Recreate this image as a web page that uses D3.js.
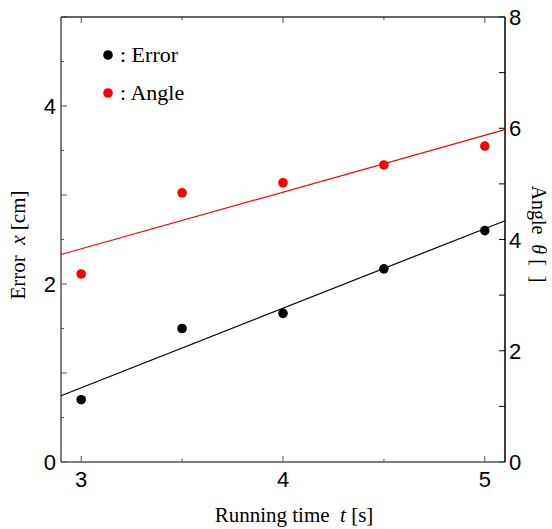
<!DOCTYPE html>
<html>
<head>
<meta charset="utf-8">
<script src="https://cdn.jsdelivr.net/npm/d3@7"></script>
<style>
  body { margin: 0; background: #fff; }
  svg { display: block; }
  text { white-space: pre; }
</style>
</head>
<body>
<div id="chart"></div>
<script>
// running time t [s]
const times = [3, 3.5, 4, 4.5, 5];
// error x [cm] (left axis)
const errorValues = [0.70, 1.50, 1.67, 2.17, 2.60];
// angle θ (right axis)
const angleValues = [3.38, 4.84, 5.02, 5.34, 5.68];

const xTicks = [3, 4, 5];
const leftTicks = [0, 2, 4];
const rightTicks = [0, 2, 4, 6, 8];

const width = 552, height = 529;
const margin = { top: 17, right: 47, bottom: 67, left: 61 };
const innerW = width - margin.left - margin.right;
const innerH = height - margin.top - margin.bottom;

const svg = d3.select('#chart').append('svg')
  .attr('width', width)
  .attr('height', height);

const g = svg.append('g')
  .attr('transform', `translate(${margin.left},${margin.top})`);

const x = d3.scaleLinear().domain([2.9, 5.1]).range([0, innerW]);
const yL = d3.scaleLinear().domain([0, 5]).range([innerH, 0]);
const yR = d3.scaleLinear().domain([0, 8]).range([innerH, 0]);

// least squares line
function fit(xs, ys) {
  const mx = d3.mean(xs), my = d3.mean(ys);
  const num = d3.sum(xs, (v, i) => (v - mx) * (ys[i] - my));
  const den = d3.sum(xs, v => (v - mx) * (v - mx));
  const b = num / den;
  return t => my + b * (t - mx);
}

const grey = '#555';

// ticks (inward)
function ticks(axisFn, scale, vals, len) {
  vals.forEach(v => axisFn(scale(v), len));
}
const leftTick = (py, len) => g.append('line').attr('x1', 0).attr('x2', len).attr('y1', py).attr('y2', py).attr('stroke', grey).attr('stroke-width', 1);
const rightTick = (py, len) => g.append('line').attr('x1', innerW).attr('x2', innerW - len).attr('y1', py).attr('y2', py).attr('stroke', '#000').attr('stroke-width', 1);
const bottomTick = (px, len) => g.append('line').attr('x1', px).attr('x2', px).attr('y1', innerH).attr('y2', innerH - len).attr('stroke', grey).attr('stroke-width', 1);
const topTick = (px, len) => g.append('line').attr('x1', px).attr('x2', px).attr('y1', 0).attr('y2', len).attr('stroke', grey).attr('stroke-width', 1);

ticks(leftTick, yL, d3.range(0, 5.01, 1), 6);
ticks(leftTick, yL, d3.range(0.5, 5, 1), 3);
ticks(rightTick, yR, d3.range(0, 8.01, 1), 6);
ticks(bottomTick, x, [3, 4, 5], 6);
ticks(bottomTick, x, [3.5, 4.5], 3);
ticks(topTick, x, [3, 4, 5], 6);
ticks(topTick, x, [3.5, 4.5], 3);

// frame
g.append('line').attr('x1', 0).attr('x2', 0).attr('y1', 0).attr('y2', innerH).attr('stroke', grey).attr('stroke-width', 1.5);
g.append('line').attr('x1', 0).attr('x2', innerW).attr('y1', innerH).attr('y2', innerH).attr('stroke', grey).attr('stroke-width', 1.5);
g.append('line').attr('x1', 0).attr('x2', innerW).attr('y1', 0).attr('y2', 0).attr('stroke', '#333').attr('stroke-width', 1.5);
g.append('line').attr('x1', innerW).attr('x2', innerW).attr('y1', 0).attr('y2', innerH).attr('stroke', '#000').attr('stroke-width', 1.5);

// tick labels
const sans = 'Liberation Sans, Arial, sans-serif';
g.selectAll('.xl').data(xTicks).enter().append('text')
  .attr('x', d => x(d)).attr('y', innerH + 25)
  .attr('text-anchor', 'middle').attr('font-family', sans).attr('font-size', 22)
  .text(d => d);
g.selectAll('.yl').data(leftTicks).enter().append('text')
  .attr('x', -5).attr('y', d => yL(d) + 8)
  .attr('text-anchor', 'end').attr('font-family', sans).attr('font-size', 22)
  .text(d => d);
g.selectAll('.yr').data(rightTicks).enter().append('text')
  .attr('x', innerW + 4).attr('y', d => yR(d) + 8)
  .attr('text-anchor', 'start').attr('font-family', sans).attr('font-size', 22)
  .text(d => d);

// fit lines
const fE = fit(times, errorValues);
const fA = fit(times, angleValues);
const dom = x.domain();
g.append('line')
  .attr('x1', x(dom[0])).attr('y1', yL(fE(dom[0])))
  .attr('x2', x(dom[1])).attr('y2', yL(fE(dom[1])))
  .attr('stroke', '#000').attr('stroke-width', 1.2);
g.append('line')
  .attr('x1', x(dom[0])).attr('y1', yR(fA(dom[0])))
  .attr('x2', x(dom[1])).attr('y2', yR(fA(dom[1])))
  .attr('stroke', '#f00').attr('stroke-width', 1.2);

// points
g.selectAll('.pe').data(times).enter().append('circle')
  .attr('cx', d => x(d)).attr('cy', (d, i) => yL(errorValues[i]))
  .attr('r', 4.8).attr('fill', '#000');
g.selectAll('.pa').data(times).enter().append('circle')
  .attr('cx', d => x(d)).attr('cy', (d, i) => yR(angleValues[i]))
  .attr('r', 4.8).attr('fill', '#f00');

// legend
const serif = 'Liberation Serif, Times New Roman, serif';
const legend = [{ label: ': Error', color: '#000' }, { label: ': Angle', color: '#f00' }];
const lg = g.selectAll('.lg').data(legend).enter().append('g')
  .attr('transform', (d, i) => `translate(47,${38 + i * 38})`);
lg.append('circle').attr('r', 4.8).attr('fill', d => d.color);
lg.append('text').attr('x', 12).attr('y', 7)
  .attr('font-family', serif).attr('font-size', 22)
  .text(d => d.label);

// axis titles
const xt = svg.append('text')
  .attr('x', 294).attr('y', 522)
  .attr('text-anchor', 'middle').attr('font-family', serif).attr('font-size', 21);
xt.append('tspan').text('Running time  ');
xt.append('tspan').attr('font-style', 'italic').text('t');
xt.append('tspan').text(' [s]');

const yt = svg.append('text')
  .attr('transform', 'translate(25,245) rotate(-90)')
  .attr('text-anchor', 'middle').attr('font-family', serif).attr('font-size', 21);
yt.append('tspan').text('Error  ');
yt.append('tspan').attr('font-style', 'italic').text('x');
yt.append('tspan').text(' [cm]');

const rt = svg.append('text')
  .attr('transform', 'translate(532,234) rotate(90)')
  .attr('text-anchor', 'middle').attr('font-family', serif).attr('font-size', 20);
rt.append('tspan').text('Angle  ');
rt.append('tspan').attr('font-style', 'italic').text('θ');
rt.append('tspan').text(' [  ]');
</script>
</body>
</html>
